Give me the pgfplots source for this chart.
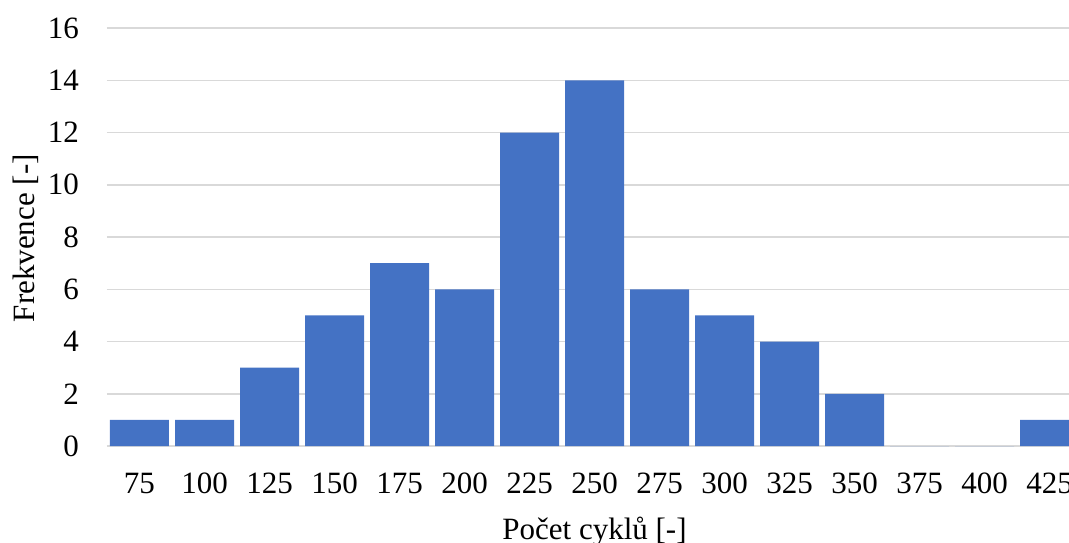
\documentclass[border=0pt]{standalone}
\usepackage{fontspec}
\setmainfont{Liberation Serif}
\usepackage{pgfplots}
\pgfplotsset{compat=1.18}
\definecolor{barblue}{HTML}{4472C4}
\definecolor{gridgray}{HTML}{D9D9D9}
\begin{document}
\begin{tikzpicture}[font=\fontsize{31}{36}\selectfont]
\path[use as bounding box] (0,0) rectangle (1069pt,542pt);
\clip (0,0) rectangle (1069pt,542pt);
\begin{axis}[
  at={(107pt,96pt)}, anchor=south west,
  scale only axis, width=975pt, height=418pt,
  xmin=-0.5, xmax=14.5, ymin=0, ymax=16,
  ytick={0,2,...,16},
  xtick={0,...,14},
  xticklabels={75,100,125,150,175,200,225,250,275,300,325,350,375,400,425},
  ymajorgrids, grid style={gridgray, line width=1.5pt},
  axis line style={draw=none},
  major tick length=0pt,
  /pgf/number format/assume math mode=true,
  xticklabel style={anchor=center, yshift=-37pt},
  yticklabel style={anchor=east, inner sep=0pt, xshift=-28pt},
  ylabel={Frekvence [-]},
  xlabel={Počet cyklů [-]},
  ylabel style={at={(axis description cs:0,0.497)}, anchor=base, yshift=72pt},
  xlabel style={at={(axis description cs:0.5,0)}, anchor=base, yshift=-93pt},
  ybar, bar width=59pt,
]
\addplot[fill=barblue, draw=none] coordinates {
(0,1) (1,1) (2,3) (3,5) (4,7) (5,6) (6,12) (7,14) (8,6) (9,5) (10,4) (11,2) (12,0) (13,0) (14,1)
};
\end{axis}
\end{tikzpicture}
\end{document}
